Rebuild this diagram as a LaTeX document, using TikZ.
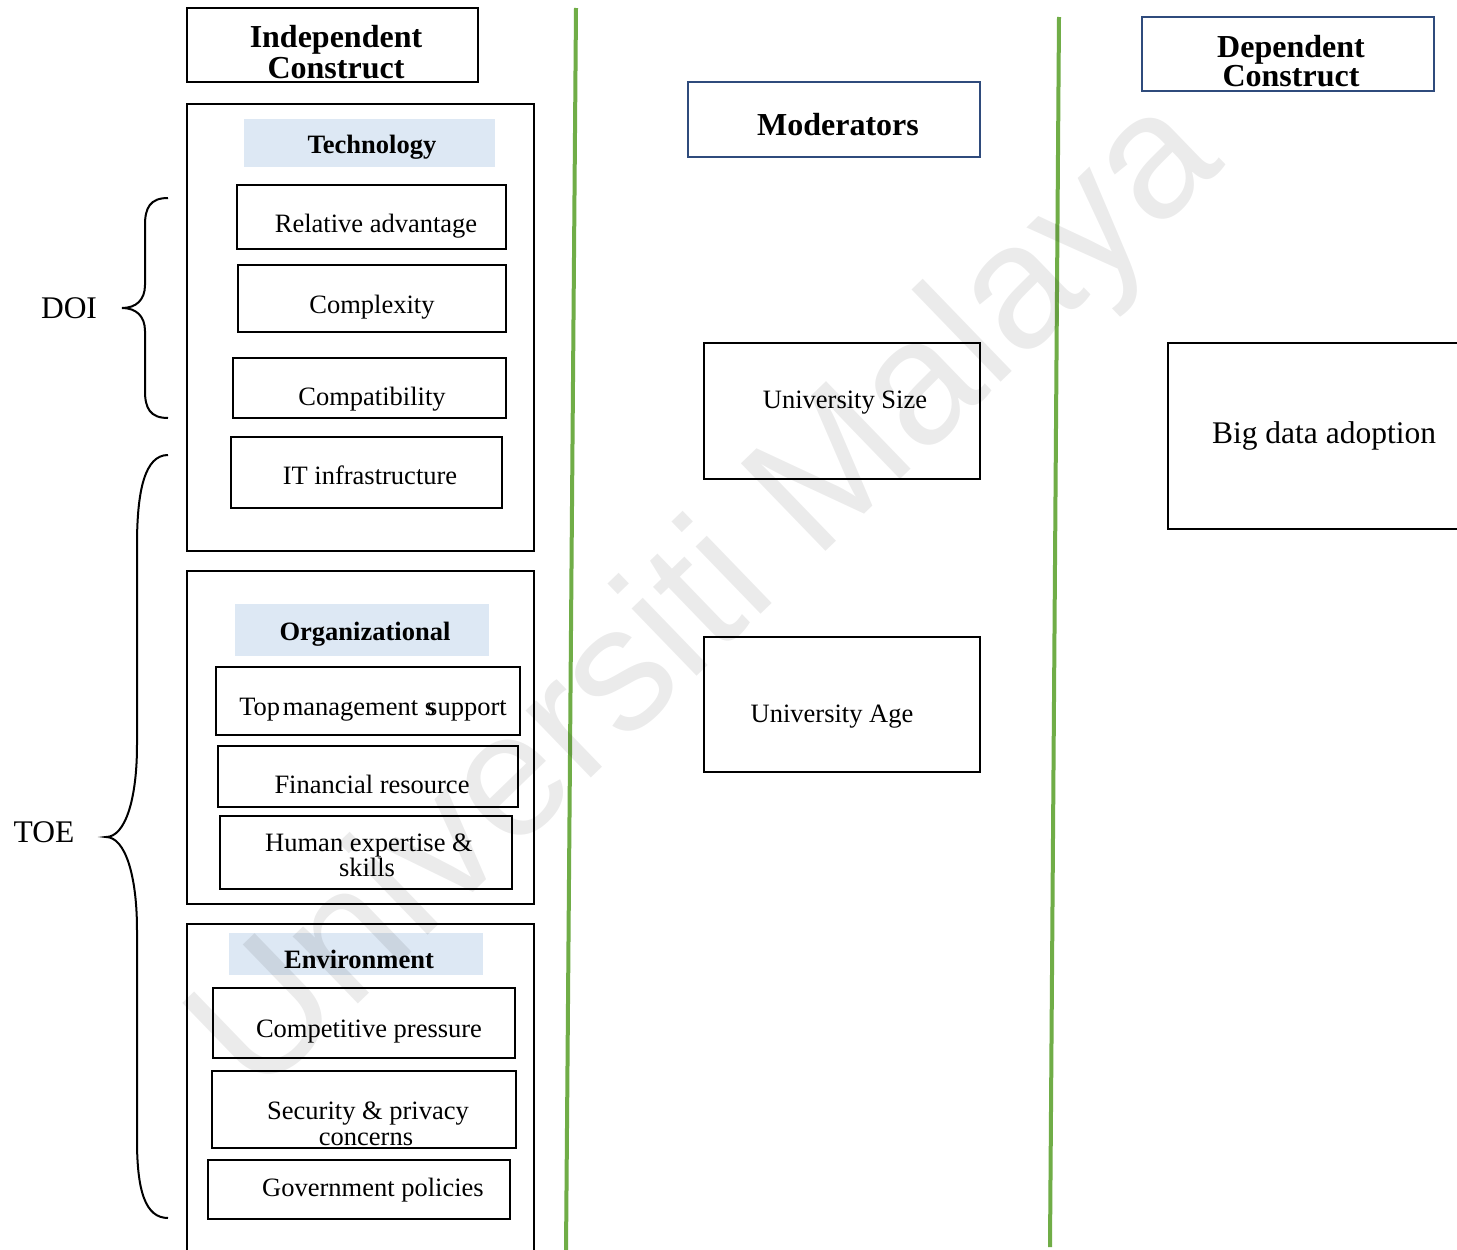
\documentclass[tikz,border=0pt]{standalone}
\usepackage{fontspec}
\setmainfont{Liberation Serif}
\newfontfamily\wmfont{Liberation Sans}
\definecolor{grn}{HTML}{70AD47}
\definecolor{dblue}{HTML}{2F4B7C}
\definecolor{lblue}{HTML}{DDE8F4}
\newcommand\rbox[6]{\node[#2, minimum width={(#5-#3)*1pt}, minimum height={(#6-#4)*1pt}] (#1) at ({(#3+#5)/2},{(#4+#6)/2}) {};}
\begin{document}
\begin{tikzpicture}[x=1pt,y=-1pt,
  box/.style={draw=black, line width=1.8pt, inner sep=0pt, outer sep=0pt},
  bbox/.style={draw=dblue, line width=2.2pt, inner sep=0pt, outer sep=0pt},
  lbl/.style={fill=lblue, inner sep=0pt, outer sep=0pt},
  txt/.style={inner sep=0pt, anchor=base, font=\fontsize{26.5}{30}\selectfont},
  hd/.style={inner sep=0pt, anchor=base, font=\fontsize{26.5}{30}\selectfont\bfseries},
  ttl/.style={inner sep=0pt, anchor=base, font=\fontsize{32}{34}\selectfont\bfseries},
  lg/.style={inner sep=0pt, anchor=base, font=\fontsize{31.5}{34}\selectfont},
  brace/.style={line width=2pt},
  divider/.style={draw=grn, line width=4pt}]
\useasboundingbox (0,0) rectangle (1457,1250);
\fill[white] (0,0) rectangle (1457,1250);

% green dividers
\coordinate (g1t) at (576,8); \coordinate (g1b) at (566,1252);
\coordinate (g2t) at (1059,17); \coordinate (g2b) at (1050,1247);
\draw[divider] (g1t) -- (g1b);
\draw[divider] (g2t) -- (g2b);

% Independent construct
\rbox{indep}{box}{187}{8}{478}{82}
\node[ttl] (indep1) at (336,47) {Independent};
\node[ttl] (indep2) at (336,78) {Construct};

% Technology group
\rbox{techg}{box}{187}{104}{534}{551}
\rbox{techl}{lbl}{244}{119}{495}{167}
\node[hd] (techt) at (372,153) {Technology};
\rbox{ra}{box}{237}{185}{506}{249}
\node[txt] (rat) at (376,232) {Relative advantage};
\rbox{cx}{box}{238}{265}{506}{332}
\node[txt] (cxt) at (372,313) {Complexity};
\rbox{cp}{box}{233}{358}{506}{418}
\node[txt] (cpt) at (372,405) {Compatibility};
\rbox{it}{box}{231}{437}{502}{508}
\node[txt] (itt) at (370,484) {IT infrastructure};

% Organizational group
\rbox{orgg}{box}{187}{571}{534}{904}
\rbox{orgl}{lbl}{235}{604}{489}{656}
\node[hd] (orgt) at (365,640) {Organizational};
\rbox{tm}{box}{216}{667}{520}{735}
\node[txt] (tmt) at (373,715) {Top\hspace{0.1em}management s\kern-0.3em support};
\rbox{fr}{box}{218}{746}{518}{807}
\node[txt] (frt) at (372,793) {Financial resource};
\rbox{he}{box}{220}{816}{512}{889}
\node[txt] (het1) at (369,851) {Human expertise \&};
\node[txt] (het2) at (367,876) {skills};

% Environment group (open at the bottom)
\rbox{envg}{box}{187}{924}{534}{1262}
\rbox{envl}{lbl}{229}{933}{483}{975}
\node[hd] (envt) at (359,968) {Environment};
\rbox{cpr}{box}{213}{988}{515}{1058}
\node[txt] (cprt) at (369,1037) {Competitive pressure};
\rbox{sp}{box}{212}{1071}{516}{1148}
\node[txt] (spt1) at (368,1119) {Security \& privacy};
\node[txt] (spt2) at (366,1145) {concerns};
\rbox{gp}{box}{208}{1160}{510}{1219}
\node[txt] (gpt) at (373,1196) {Government policies};

% Moderators
\rbox{mod}{bbox}{688}{82}{980}{157}
\node[ttl] (modt) at (838,135) {Moderators};
\rbox{us}{box}{704}{343}{980}{479}
\node[txt] (ust) at (845,408) {University Size};
\rbox{ua}{box}{704}{637}{980}{772}
\node[txt] (uat) at (832,722) {University Age};

% Dependent
\rbox{dep}{bbox}{1142}{17}{1434}{91}
\node[ttl] (dep1) at (1291,57) {Dependent};
\node[ttl] (dep2) at (1291,86) {Construct};
\rbox{bd}{box}{1168}{343}{1475}{529}
\node[lg] (bdt) at (1324,443) {Big data adoption};

% Theory labels and braces
\node[lg] (doi) at (69,318) {DOI};
\node[lg] (toe) at (44,842) {TOE};
\draw[brace] (168,198) .. controls (150,198) and (145,208) .. (145,225) -- (145,285)
  .. controls (145,300) and (136,308) .. (122,308)
  .. controls (136,308) and (145,316) .. (145,331) -- (145,391)
  .. controls (145,408) and (150,418) .. (168,418);
\draw[brace] (168,455) .. controls (145,455) and (137,490) .. (137,545) -- (137,745)
  .. controls (137,800) and (125,837) .. (106,837)
  .. controls (125,837) and (137,875) .. (137,930) -- (137,1140)
  .. controls (137,1190) and (145,1218) .. (168,1218);

% watermark
\node[inner sep=0pt, rotate=44, text=black, text opacity=0.08,
  font=\wmfont\fontsize{177}{180}\selectfont] (wm) at (710,600) {Universiti Malaya};
\end{tikzpicture}
\end{document}
